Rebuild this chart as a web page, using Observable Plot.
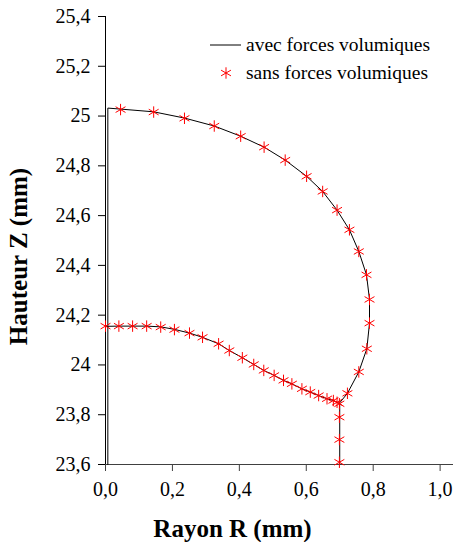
<!DOCTYPE html>
<html>
<head>
<meta charset="utf-8">
<script src="https://cdn.jsdelivr.net/npm/d3@7"></script>
<script src="https://cdn.jsdelivr.net/npm/@observablehq/plot@0.6"></script>
<style>
  html, body { margin: 0; padding: 0; background: #fff; }
  #wrap { position: relative; width: 454px; height: 542px; font-family: "Liberation Serif", "Times New Roman", serif; }
  #legend { position: absolute; left: 210px; top: 31px; font-size: 19.5px; color: #000; font-family: "Liberation Serif", "Times New Roman", serif; }
  .row { display: flex; align-items: center; height: 28px; }
  .row svg { width: 32px; height: 20px; margin-right: 4px; }
</style>
</head>
<body>
<div id="wrap"></div>
<script>
// ---- Data ----
const seriesNames = ["avec forces volumiques", "sans forces volumiques"];

// "avec" line, outer contour (left wall, top, right side, foot)
const avecOuterR = [0.007, 0.007, 0.045, 0.144, 0.236, 0.325, 0.404, 0.474, 0.537, 0.601, 0.649, 0.692, 0.729, 0.757, 0.780, 0.789, 0.789, 0.781, 0.757, 0.723, 0.700, 0.700];
const avecOuterZ = [23.60, 25.032, 25.028, 25.017, 24.992, 24.960, 24.919, 24.875, 24.823, 24.758, 24.697, 24.622, 24.543, 24.456, 24.362, 24.263, 24.168, 24.065, 23.972, 23.886, 23.848, 23.600];

// "avec" line, inner contour
const avecInnerR = [0.000, 0.040, 0.081, 0.123, 0.165, 0.206, 0.251, 0.290, 0.338, 0.370, 0.409, 0.443, 0.473, 0.504, 0.532, 0.557, 0.587, 0.612, 0.637, 0.662, 0.681, 0.692, 0.700];
const avecInnerZ = [24.155, 24.156, 24.156, 24.156, 24.153, 24.143, 24.128, 24.111, 24.085, 24.058, 24.029, 24.002, 23.978, 23.958, 23.938, 23.924, 23.904, 23.891, 23.877, 23.864, 23.857, 23.850, 23.845];

// "sans" points (asterisks)
const sansR = [0.045, 0.144, 0.236, 0.325, 0.404, 0.474, 0.537, 0.601, 0.649, 0.692, 0.729, 0.757, 0.780, 0.789, 0.789, 0.781, 0.757, 0.723,
               0.699, 0.699, 0.699, 0.699,
               0.000, 0.040, 0.081, 0.123, 0.165, 0.206, 0.251, 0.290, 0.338, 0.370, 0.409, 0.443, 0.473, 0.504, 0.532, 0.557, 0.587, 0.612, 0.637, 0.662, 0.681, 0.692];
const sansZ = [25.026, 25.016, 24.991, 24.960, 24.919, 24.875, 24.823, 24.758, 24.697, 24.622, 24.543, 24.456, 24.362, 24.263, 24.168, 24.065, 23.972, 23.886,
               23.844, 23.790, 23.700, 23.609,
               24.156, 24.156, 24.156, 24.156, 24.152, 24.142, 24.128, 24.111, 24.085, 24.058, 24.029, 24.002, 23.978, 23.958, 23.938, 23.924, 23.904, 23.891, 23.877, 23.864, 23.857, 23.850];

const xTickValues = [0, 0.2, 0.4, 0.6, 0.8, 1.0];
const xTickLabels = ["0,0", "0,2", "0,4", "0,6", "0,8", "1,0"];
const yTickValues = [23.6, 23.8, 24.0, 24.2, 24.4, 24.6, 24.8, 25.0, 25.2, 25.4];
const yTickLabels = ["23,6", "23,8", "24", "24,2", "24,4", "24,6", "24,8", "25", "25,2", "25,4"];

const xTitle = "Rayon R (mm)";
const yTitle = "Hauteur Z (mm)";

// ---- Build tables ----
const outer = avecOuterR.map((r, i) => ({R: r, Z: avecOuterZ[i]}));
const inner = avecInnerR.map((r, i) => ({R: r, Z: avecInnerZ[i]}));
const sans = sansR.map((r, i) => ({R: r, Z: sansZ[i]}));

const font = "'Liberation Serif', 'Times New Roman', serif";
const starR = 5.4;

const chart = Plot.plot({
  width: 454,
  height: 542,
  marginLeft: 105,
  marginRight: 1,
  marginTop: 16,
  marginBottom: 78,
  style: {fontFamily: font, fontSize: "20px", color: "#000", background: "transparent"},
  x: {domain: [0, 1.04]},
  y: {domain: [23.6, 25.4]},
  marks: [
    Plot.axisX({ticks: xTickValues, tickFormat: d => xTickLabels[xTickValues.indexOf(d)], tickSize: 7, tickPadding: 10, label: null, stroke: "#404040", fontFamily: font, fontSize: 20}),
    Plot.axisY({ticks: yTickValues, tickFormat: d => yTickLabels[yTickValues.indexOf(d)], tickSize: 7, tickPadding: 8, label: null, fontFamily: font, fontSize: 20}),
    Plot.ruleY([23.6], {stroke: "#404040"}),
    Plot.ruleX([0], {stroke: "#000"}),
    Plot.line(outer, {x: "R", y: "Z", stroke: "#000", strokeWidth: 1, curve: "linear"}),
    Plot.line(inner, {x: "R", y: "Z", stroke: "#000", strokeWidth: 1, curve: "linear"}),
    Plot.dot(sans, {x: "R", y: "Z", symbol: "asterisk", r: starR, stroke: "#ff0000", strokeWidth: 1}),
    Plot.text([xTitle], {text: d => d, frameAnchor: "bottom", textAnchor: "middle", lineAnchor: "bottom", dx: -47, dy: 72, fontSize: 25, fontWeight: "bold", fontFamily: font}),
    Plot.text([yTitle], {text: d => d, frameAnchor: "left", textAnchor: "middle", lineAnchor: "middle", rotate: -90, dx: -87, dy: 16, fontSize: 25, fontWeight: "bold", fontFamily: font})
  ]
});

const wrap = document.getElementById("wrap");
wrap.appendChild(chart);

// ---- Legend (overlay inside plot area) ----
const legend = document.createElement("div");
legend.id = "legend";
const starPath = d3.symbol(d3.symbolAsterisk, Math.PI * starR * starR)();
legend.innerHTML =
  `<div class="row"><svg viewBox="0 0 32 20"><line x1="0" x2="31" y1="10" y2="10" stroke="#000" stroke-width="1"/></svg><span>${seriesNames[0]}</span></div>` +
  `<div class="row"><svg viewBox="0 0 32 20"><path transform="translate(16,10)" d="${starPath}" fill="none" stroke="#ff0000" stroke-width="1"/></svg><span>${seriesNames[1]}</span></div>`;
wrap.appendChild(legend);
</script>
</body>
</html>
